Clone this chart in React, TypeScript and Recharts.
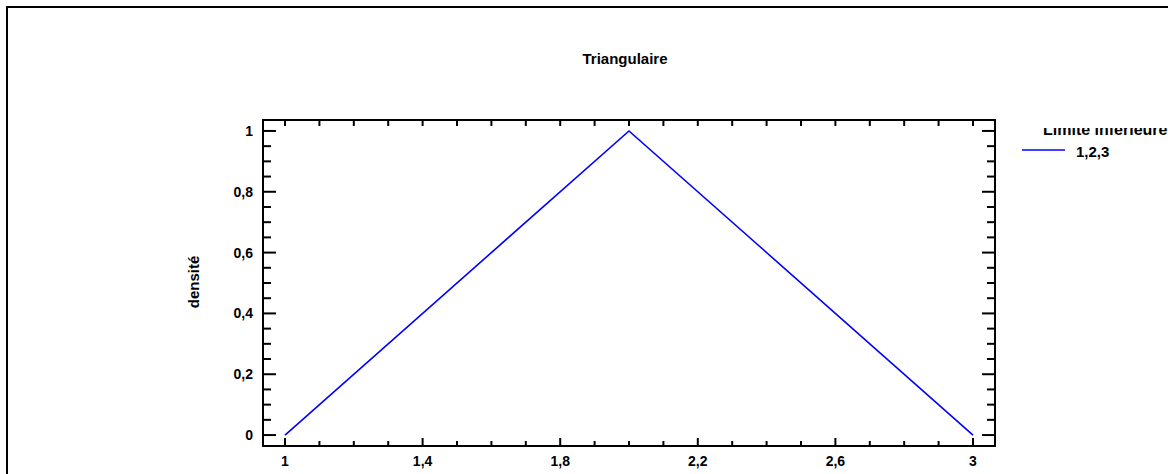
import { Line, LineChart, XAxis, YAxis } from 'recharts';

// tick positions (minor ticks every 0.1 / 0.05)
const xTicks = [1, 1.1, 1.2, 1.3, 1.4, 1.5, 1.6, 1.7, 1.8, 1.9, 2, 2.1, 2.2, 2.3, 2.4, 2.5, 2.6, 2.7, 2.8, 2.9, 3];
const xLabelled = [1, 1.4, 1.8, 2.2, 2.6, 3];
const yTicks = [0, 0.05, 0.1, 0.15, 0.2, 0.25, 0.3, 0.35, 0.4, 0.45, 0.5, 0.55, 0.6, 0.65, 0.7, 0.75, 0.8, 0.85, 0.9, 0.95, 1];
const yLabelled = [0, 0.2, 0.4, 0.6, 0.8, 1];

// triangular density, min 1, mode 2, max 3
const xValues = [1, 2, 3];
const densite = [0, 1, 0];

const data = xValues.map((x, i) => ({ x, densite: densite[i] }));

const FONT = "'Liberation Sans', Arial, sans-serif";

const isLabelled = (list: number[], v: number) => list.some((l) => Math.abs(l - v) < 1e-9);
const fmt = (v: number) => String(Math.round(v * 100) / 100).replace('.', ',');

function BottomTick(props: any) {
  const { x, y, payload } = props;
  const major = isLabelled(xLabelled, payload.value);
  return (
    <g>
      <line x1={x} x2={x} y1={y} y2={y - (major ? 8 : 5)} stroke="#000" strokeWidth={2} />
      {major ? (
        <text x={x} y={y + 20} textAnchor="middle" fontFamily={FONT} fontSize={14} fontWeight="bold" fill="#000">
          {fmt(payload.value)}
        </text>
      ) : null}
    </g>
  );
}

function TopTick(props: any) {
  const { x, y } = props;
  return <line x1={x} x2={x} y1={y} y2={y + 6} stroke="#000" strokeWidth={2} />;
}

function LeftTick(props: any) {
  const { x, y, payload } = props;
  const major = isLabelled(yLabelled, payload.value);
  return (
    <g>
      <line x1={x} x2={x + (major ? 13 : 8)} y1={y} y2={y} stroke="#000" strokeWidth={2} />
      {major ? (
        <text x={x - 10} y={y + 5} textAnchor="end" fontFamily={FONT} fontSize={14} fontWeight="bold" fill="#000">
          {fmt(payload.value)}
        </text>
      ) : null}
    </g>
  );
}

function RightTick(props: any) {
  const { x, y, payload } = props;
  const major = isLabelled(yLabelled, payload.value);
  return <line x1={x} x2={x - (major ? 13 : 8)} y1={y} y2={y} stroke="#000" strokeWidth={2} />;
}

const axisLine = { stroke: '#000', strokeWidth: 2, strokeLinecap: 'square' as const };

export default function App() {
  return (
    <div
      style={{
        position: 'fixed',
        left: 0,
        top: 0,
        width: 1168,
        height: 474,
        background: '#fff',
        overflow: 'hidden',
      }}
    >
      <div
        style={{
          position: 'absolute',
          left: 6,
          top: 6,
          width: 1400,
          height: 700,
          border: '2px solid #000',
        }}
      />
      <div style={{ position: 'absolute', left: 0, top: 0 }}>
        <LineChart width={1168} height={474} data={data} margin={{ top: 119, right: 172, bottom: 27, left: 262 }}>
          <XAxis
            xAxisId="b"
            dataKey="x"
            type="number"
            domain={[0.936, 3.064]}
            allowDataOverflow
            ticks={xTicks}
            interval={0}
            height={1}
            tickSize={0}
            tickMargin={0}
            tickLine={false}
            axisLine={axisLine}
            tick={BottomTick}
          />
          <XAxis
            xAxisId="t"
            orientation="top"
            dataKey="x"
            type="number"
            domain={[0.936, 3.064]}
            allowDataOverflow
            ticks={xTicks}
            interval={0}
            height={1}
            tickSize={0}
            tickMargin={0}
            tickLine={false}
            axisLine={axisLine}
            tick={TopTick}
          />
          <YAxis
            yAxisId="l"
            type="number"
            domain={[-0.036, 1.036]}
            allowDataOverflow
            ticks={yTicks}
            interval={0}
            width={1}
            tickSize={0}
            tickMargin={0}
            tickLine={false}
            axisLine={axisLine}
            tick={LeftTick}
          />
          <YAxis
            yAxisId="r"
            orientation="right"
            type="number"
            domain={[-0.036, 1.036]}
            allowDataOverflow
            ticks={yTicks}
            interval={0}
            width={1}
            tickSize={0}
            tickMargin={0}
            tickLine={false}
            axisLine={axisLine}
            tick={RightTick}
          />
          <Line
            xAxisId="b"
            yAxisId="l"
            type="linear"
            dataKey="densite"
            stroke="#0000ff"
            strokeWidth={1.6}
            dot={false}
            activeDot={false}
            isAnimationActive={false}
          />
        </LineChart>
      </div>
      <svg
        width={1168}
        height={474}
        style={{ position: 'absolute', left: 0, top: 0, pointerEvents: 'none' }}
      >
        <defs>
          <clipPath id="legend-title-clip">
            <rect x={1000} y={128} width={200} height={14} />
          </clipPath>
        </defs>
        <text x={625} y={64} textAnchor="middle" fontFamily={FONT} fontSize={15} fontWeight="bold" fill="#000">
          Triangulaire
        </text>
        <text
          x={193}
          y={282}
          transform="rotate(-90 193 282)"
          textAnchor="middle"
          dominantBaseline="central"
          fontFamily={FONT}
          fontSize={15}
          fontWeight="bold"
          fill="#000"
        >
          densité
        </text>
        <text
          x={1043}
          y={135}
          clipPath="url(#legend-title-clip)"
          fontFamily={FONT}
          fontSize={16}
          fontWeight="bold"
          fill="#000"
        >
          Limite inférieure
        </text>
        <line x1={1022} x2={1065} y1={150} y2={150} stroke="#0000ff" strokeWidth={1.6} />
        <text x={1076} y={157} fontFamily={FONT} fontSize={15} fontWeight="bold" fill="#000">
          1,2,3
        </text>
      </svg>
    </div>
  );
}
